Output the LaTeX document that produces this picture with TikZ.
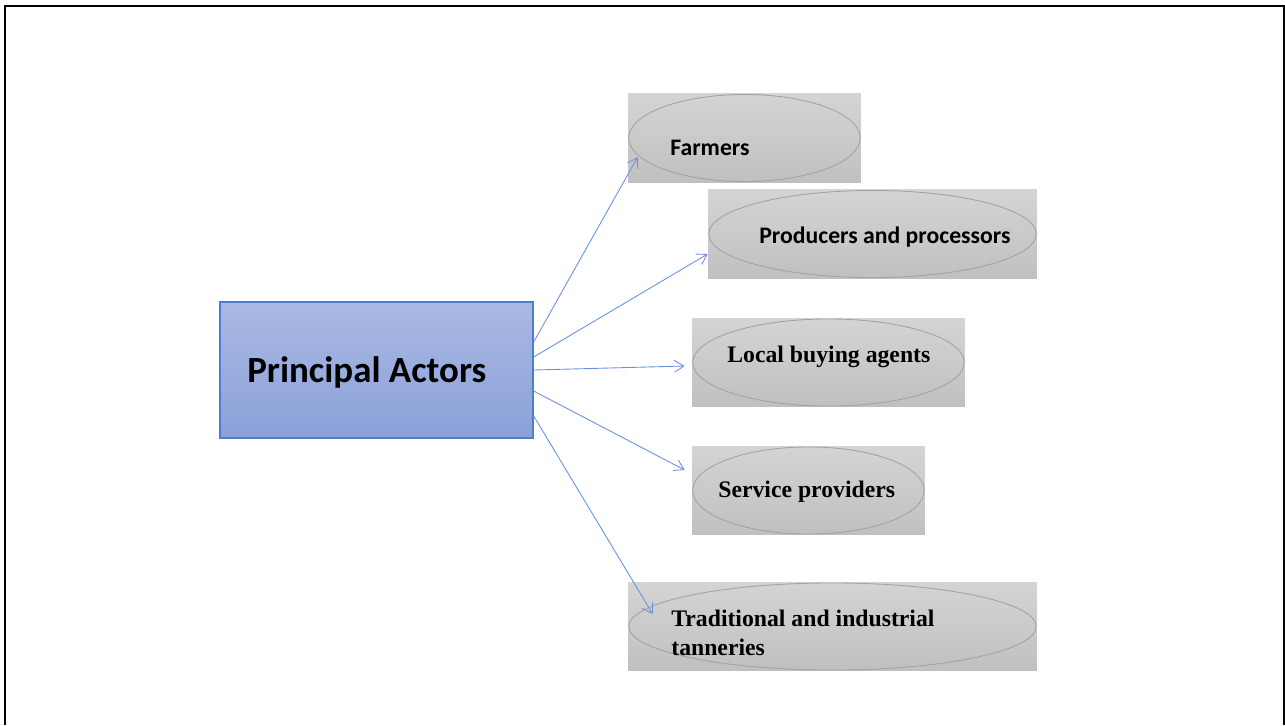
\documentclass[tikz,border=0pt]{standalone}
\usepackage{fontspec}
\setmainfont{Liberation Serif}
\newfontfamily\calibri{Carlito}
\usetikzlibrary{arrows.meta}
\usetikzlibrary{calc}

\definecolor{paTop}{HTML}{AAB9E4}
\definecolor{paBot}{HTML}{8AA1D9}
\definecolor{paEdge}{HTML}{4F7BD0}
\definecolor{linkBlue}{HTML}{6A92DA}
\definecolor{boxTop}{HTML}{D4D4D4}
\definecolor{boxBot}{HTML}{C0C0C0}
\definecolor{ellEdge}{HTML}{A3A3A3}

\begin{document}
\begin{tikzpicture}[x=0.02cm, y=-0.02cm,
    mainbox/.style={draw=paEdge, line width=0.8pt, top color=paTop, bottom color=paBot,
      minimum width=6.26cm, minimum height=2.72cm, inner sep=0},
    actorbox/.style={top color=boxTop, bottom color=boxBot, minimum height=1.77cm, inner sep=0,
      path picture={\draw[ellEdge, line width=0.5pt]
        let \p1=($(path picture bounding box.north east)-(path picture bounding box.center)$) in
        (path picture bounding box.center) ellipse [x radius=\x1-0.4pt, y radius=\y1-0.4pt];}},
    sanstext/.style={inner sep=0, anchor=west, font=\calibri\bfseries\fontsize{13.5}{16.5}\selectfont},
    seriftext/.style={inner sep=0, anchor=west, align=left, font=\bfseries\fontsize{13.5}{16.5}\selectfont},
    link/.style={draw=linkBlue, line width=0.5pt, -{Straight Barb[length=0.19cm, width=0.24cm]}}]
  \useasboundingbox (0,0) rectangle (1285,725);

  % Rahmen
  \draw[line width=1.1pt] (5,725) -- (5,6) -- (1284,6) -- (1284,725);

  % Kaesten
  \node[mainbox] (pa) at (376.5,370) {};
  \node[actorbox, minimum width=4.66cm] (farm) at (744.5,138) {};
  \node[actorbox, minimum width=6.58cm] (prod) at (872.5,234) {};
  \node[actorbox, minimum width=5.46cm] (local) at (828.5,362.5) {};
  \node[actorbox, minimum width=4.66cm] (serv) at (808.5,490.5) {};
  \node[actorbox, minimum width=8.18cm] (tann) at (832.5,626.5) {};

  % Texte
  \node[inner sep=0, anchor=west, font=\calibri\bfseries\fontsize{21}{25}\selectfont] (patxt) at (247,372) {Principal Actors};
  \node[sanstext] (farmtxt) at (670,148) {Farmers};
  \node[sanstext] (prodtxt) at (759,237) {Producers and processors};
  \node[seriftext] (localtxt) at (727,357) {Local buying agents};
  \node[seriftext] (servtxt) at (718,492) {Service providers};
  \node[seriftext] (tanntxt) at (671,633) {Traditional and industrial\\tanneries};

  % Pfeile
  \draw[link] ($(pa.east)+(0,-28)$) -- ($(farm.west)+(10,19)$);
  \draw[link] ($(pa.east)+(0,-13)$) -- ($(prod.west)+(0,20)$);
  \draw[link] (pa.east) -- ($(local.west)+(-7,3.5)$);
  \draw[link] ($(pa.east)+(0,21)$) -- ($(serv.west)+(-7,-20.5)$);
  \draw[link] ($(pa.east)+(0,46)$) -- ($(tann.west)+(25,-12.5)$);
\end{tikzpicture}
\end{document}
